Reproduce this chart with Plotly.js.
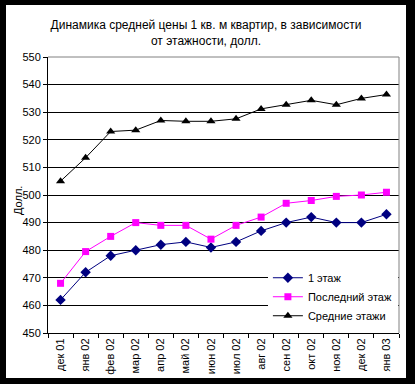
<!DOCTYPE html>
<html>
<head>
<meta charset="utf-8">
<script src="https://cdn.plot.ly/plotly-3.0.1.min.js"></script>
<style>
html,body{margin:0;padding:0;background:#000;width:415px;height:384px;overflow:hidden;}
#frame{position:absolute;left:6px;top:5px;width:400px;height:373px;background:#fff;}
#chart{position:absolute;left:0;top:0;width:415px;height:384px;}
</style>
</head>
<body>
<div id="frame"></div>
<div id="chart"></div>
<script>
const months = ['дек 01','янв 02','фев 02','мар 02','апр 02','май 02','июн 02','июл 02','авг 02','сен 02','окт 02','ноя 02','дек 02','янв 03'];
const firstFloor = [462, 472, 478, 480, 482, 483, 481, 483, 487, 490, 492, 490, 490, 493];
const topFloor = [468, 479.5, 485, 490, 489, 489, 484, 489, 492, 497, 498, 499.5, 500, 501];
const middleFloors = [505, 513.5, 523, 523.5, 527, 526.7, 526.7, 527.6, 531.2, 532.7, 534.3, 532.7, 535, 536.4];
const yTicks = [450, 460, 470, 480, 490, 500, 510, 520, 530, 540, 550];

const FONT = '"Liberation Sans", Arial, sans-serif';

const traces = [
  {x: months, y: firstFloor, name: '1 этаж', type: 'scatter', mode: 'lines+markers',
   line: {color: '#000080', width: 1}, marker: {symbol: 'diamond', size: 8, color: '#000080'}},
  {x: months, y: topFloor, name: 'Последний этаж', type: 'scatter', mode: 'lines+markers',
   line: {color: '#FF00FF', width: 1}, marker: {symbol: 'square', size: 7, color: '#FF00FF'}},
  {x: months, y: middleFloors, name: 'Средние этажи', type: 'scatter', mode: 'lines+markers',
   line: {color: '#000000', width: 1}, marker: {symbol: 'triangle-up', size: 8, color: '#000000'}}
];

const layout = {
  width: 415, height: 384,
  margin: {l: 48, r: 16, t: 57, b: 51, pad: 0},
  paper_bgcolor: 'rgba(0,0,0,0)',
  plot_bgcolor: '#ffffff',
  font: {family: FONT, size: 11, color: '#000'},
  title: {
    text: 'Динамика средней цены 1 кв. м квартир, в зависимости<br>от этажности, долл.',
    font: {family: FONT, size: 12, color: '#000'},
    xref: 'container', x: 0.4964, xanchor: 'center',
    yref: 'container', y: 0.924, yanchor: 'top'
  },
  xaxis: {
    type: 'category', categoryorder: 'array', categoryarray: months,
    range: [-0.5, months.length - 0.5],
    showgrid: false, showline: true, linecolor: '#000', linewidth: 1,
    ticks: 'outside', tickson: 'boundaries', ticklen: 4, tickcolor: '#000', tickwidth: 1,
    tickangle: -90, tickfont: {family: FONT, size: 11, color: '#000'},
    zeroline: false, fixedrange: true
  },
  yaxis: {
    range: [450, 550], tickvals: yTicks, ticktext: yTicks.map(String),
    showgrid: true, gridcolor: '#000', gridwidth: 1,
    showline: true, linecolor: '#000', linewidth: 1,
    ticks: 'outside', ticklen: 4, tickcolor: '#000', tickwidth: 1,
    tickfont: {family: FONT, size: 11, color: '#000'},
    zeroline: false, fixedrange: true
  },
  annotations: [
    {text: 'Долл.', xref: 'paper', yref: 'paper', x: -0.0855, y: 0.482,
     xanchor: 'center', yanchor: 'middle', textangle: -90, showarrow: false,
     font: {family: FONT, size: 11, color: '#000'}}
  ],
  legend: {
    x: 0.6265, xanchor: 'left', y: 0.01, yanchor: 'bottom',
    bgcolor: '#ffffff', borderwidth: 0,
    font: {family: FONT, size: 11, color: '#000'},
    tracegroupgap: 0
  },
  shapes: [
    {type: 'line', xref: 'paper', yref: 'paper', x0: 0, x1: 1, y0: 1, y1: 1,
     line: {color: '#808080', width: 1}, layer: 'above'},
    {type: 'line', xref: 'paper', yref: 'paper', x0: 1, x1: 1, y0: 0, y1: 1,
     line: {color: '#808080', width: 1}, layer: 'above'}
  ],
  showlegend: true
};

Plotly.newPlot('chart', traces, layout, {displayModeBar: false, staticPlot: true});
</script>
</body>
</html>
